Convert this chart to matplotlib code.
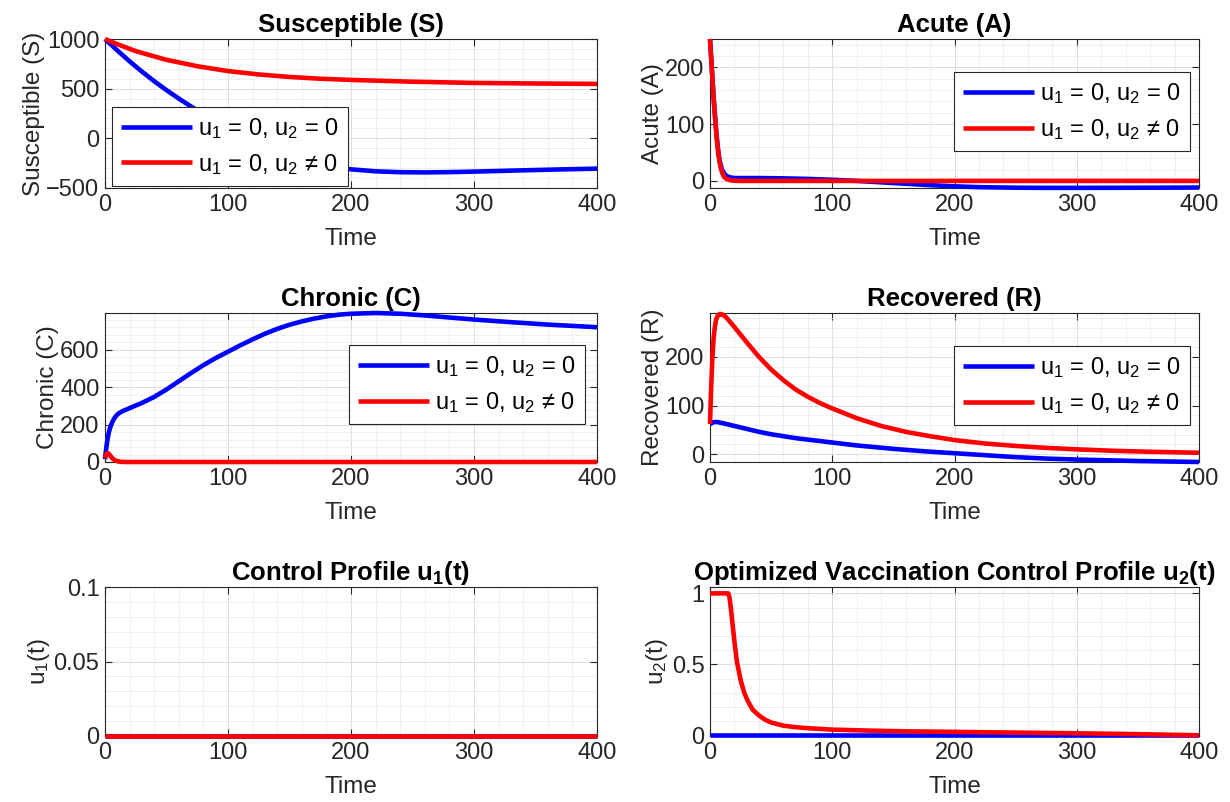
import numpy as np
import matplotlib
matplotlib.use('Agg')
import matplotlib.pyplot as plt
from matplotlib.ticker import AutoMinorLocator

plt.rcParams['font.family'] = ['Liberation Sans', 'DejaVu Sans']
plt.rcParams['mathtext.fontset'] = 'custom'
plt.rcParams['mathtext.rm'] = 'Liberation Sans'
plt.rcParams['mathtext.it'] = 'Liberation Sans'
plt.rcParams['mathtext.bf'] = 'Liberation Sans:bold'
plt.rcParams['mathtext.default'] = 'regular'

# ---- data ----
# Susceptible
s_t_blue = [0, 10, 20, 30, 40, 50, 60, 70, 80, 90, 100, 110, 120, 130, 140, 150, 160, 170,
            180, 190, 200, 220, 240, 260, 280, 300, 340, 370, 400]
s_blue = [1000, 885, 775, 672, 575, 485, 400, 320, 240, 165, 95, 30, -30, -85, -135, -178,
          -215, -248, -275, -296, -312, -332, -341, -343, -340, -335, -322, -313, -305]
s_t_red = [0, 10, 25, 50, 75, 100, 125, 150, 175, 200, 250, 300, 350, 400]
s_red = [1000, 948, 878, 790, 726, 677, 643, 618, 600, 588, 570, 558, 552, 548]

# Acute
a_t_blue = [0, 1, 2, 3, 4, 5, 6, 7, 8, 9, 10, 12, 14, 17, 20, 40, 60, 80, 100, 120, 140,
            160, 180, 200, 220, 250, 280, 320, 360, 400]
a_blue = [250, 215, 180, 146, 117, 90, 67, 48, 35, 26, 19, 12, 8, 6, 5, 5, 4.5, 3.5, 2, 0,
          -2.5, -5, -7.5, -9.5, -11, -12, -12.3, -12.2, -12, -11.7]
a_t_red = [0, 1, 2, 3, 4, 5, 6, 7, 8, 9, 10, 11, 12, 14, 17, 20, 25, 400]
a_red = [250, 215, 180, 145, 115, 88, 64, 45, 31, 21, 14, 9, 6, 3, 1, 0.3, 0, 0]

# Chronic
c_t_blue = [0, 1, 2, 3, 4, 6, 8, 10, 12, 15, 20, 25, 30, 40, 50, 60, 70, 80, 90, 100, 110,
            120, 130, 140, 150, 160, 170, 180, 190, 200, 220, 240, 260, 280, 300, 330, 360, 400]
c_blue = [15, 75, 120, 155, 180, 215, 238, 254, 264, 274, 288, 302, 316, 348, 388, 432, 476,
          518, 556, 590, 624, 656, 686, 712, 734, 752, 767, 779, 788, 793, 797, 793, 784, 773,
          762, 748, 735, 721]
c_t_red = [0, 1, 2, 3, 4, 6, 8, 10, 13, 16, 400]
c_red = [20, 42, 48, 45, 36, 20, 9, 4, 1, 0, 0]

# Recovered
r_t_blue = [0, 3, 6, 10, 20, 30, 40, 50, 60, 70, 80, 100, 120, 150, 175, 200, 225, 250,
            275, 300, 350, 400]
r_blue = [62, 66, 66, 64, 58, 52, 46, 41, 37, 33, 30, 24, 18, 11, 6, 2, -2, -6, -9, -11,
          -14, -16]
r_t_red = [0, 1, 2, 3, 4, 5, 6, 8, 10, 12, 15, 20, 30, 40, 50, 60, 70, 80, 90, 100, 120,
           140, 160, 180, 200, 225, 250, 275, 300, 330, 360, 400]
r_red = [62, 140, 200, 240, 262, 276, 283, 288, 287, 284, 276, 261, 230, 200, 174, 152, 133,
         118, 105, 94, 74, 58, 46, 37, 29, 22, 17, 13, 10, 7, 5, 3]

# Controls
u_t_zero = [0, 400]
u_zero = [0, 0]
u2_t_red = [0, 15, 16, 17, 18, 19, 20, 22, 25, 28, 31, 35, 40, 45, 50, 60, 70, 80, 100, 130,
            160, 200, 250, 300, 350, 400]
u2_red = [1, 1, 0.97, 0.9, 0.82, 0.74, 0.66, 0.52, 0.39, 0.3, 0.24, 0.18, 0.14, 0.11, 0.09,
          0.068, 0.057, 0.05, 0.04, 0.033, 0.028, 0.024, 0.019, 0.014, 0.008, 0]

legend_labels = [r'u$_1$ = 0, u$_2$ = 0', r'u$_1$ = 0, u$_2$ ≠ 0']

BLUE = '#0000ff'
RED = '#ff0000'
TXT = '#262626'
LW = 3.3
TICK_FS = 17
LABEL_FS = 17.5
TITLE_FS = 18.5
LEG_FS = 17

fig = plt.figure(figsize=(12.3, 8.02), dpi=100)

# axes boxes in figure fractions (left, bottom, width, height)
W = 1230.0
H = 802.0
col_x = [105 / W, 710 / W]
col_w = [492 / W, 489 / W]
row_y = [(H - 188) / H, (H - 462) / H, (H - 736) / H]
row_h = 149 / H


def make_ax(r, c):
    ax = fig.add_axes([col_x[c], row_y[r], col_w[c], row_h])
    ax.set_xlim(0, 400)
    ax.set_xticks([0, 100, 200, 300, 400])
    ax.xaxis.set_minor_locator(AutoMinorLocator(5))
    ax.yaxis.set_minor_locator(AutoMinorLocator(5))
    ax.grid(True, which='major', color='#dcdcdc', lw=0.7)
    ax.grid(True, which='minor', color='#ececec', lw=0.6)
    ax.set_axisbelow(True)
    ax.tick_params(which='major', direction='in', length=5, width=0.8, top=True, right=True,
                   labelsize=TICK_FS, colors=TXT, pad=4)
    ax.tick_params(which='minor', length=0)
    for sp in ax.spines.values():
        sp.set_color('#262626')
        sp.set_linewidth(0.8)
    ax.set_xlabel('Time', fontsize=LABEL_FS, color=TXT, labelpad=9)
    return ax


def draw_pair(ax, tb, yb, tr, yr):
    # MATLAB style: thick strokes are not cut at the box edge
    ax.plot(tb, yb, color=BLUE, lw=LW, clip_on=False, solid_capstyle='butt', zorder=3)
    ax.plot(tr, yr, color=RED, lw=LW, clip_on=False, solid_capstyle='butt', zorder=3)


def add_legend(ax, loc, anchor):
    leg = ax.legend(legend_labels, loc=loc, bbox_to_anchor=anchor, borderaxespad=0,
                    fontsize=LEG_FS, fancybox=False, framealpha=1, edgecolor='#262626',
                    handlelength=3.0, handletextpad=0.25, borderpad=0.4, labelspacing=0.45)
    leg.get_frame().set_linewidth(0.8)
    leg.set_zorder(5)
    for t in leg.get_texts():
        t.set_color('black')


# Susceptible
ax = make_ax(0, 0)
draw_pair(ax, s_t_blue, s_blue, s_t_red, s_red)
ax.set_ylim(-500, 1000)
ax.set_yticks([-500, 0, 500, 1000])
ax.set_ylabel('Susceptible (S)', fontsize=LABEL_FS, color=TXT, labelpad=1)
ax.set_title('Susceptible (S)', fontsize=TITLE_FS, fontweight='bold', pad=5)
add_legend(ax, 'lower left', (0.014, 0.013))

# Acute
ax = make_ax(0, 1)
draw_pair(ax, a_t_blue, a_blue, a_t_red, a_red)
ax.set_ylim(-12.5, 250)
ax.set_yticks([0, 100, 200])
ax.set_ylabel('Acute (A)', fontsize=LABEL_FS, color=TXT, labelpad=1)
ax.set_title('Acute (A)', fontsize=TITLE_FS, fontweight='bold', pad=5)
add_legend(ax, 'upper right', (0.982, 0.779))

# Chronic
ax = make_ax(1, 0)
draw_pair(ax, c_t_blue, c_blue, c_t_red, c_red)
ax.set_ylim(0, 797)
ax.set_yticks([0, 200, 400, 600])
ax.set_ylabel('Chronic (C)', fontsize=LABEL_FS, color=TXT, labelpad=1)
ax.set_title('Chronic (C)', fontsize=TITLE_FS, fontweight='bold', pad=5)
add_legend(ax, 'upper right', (0.976, 0.785))

# Recovered
ax = make_ax(1, 1)
draw_pair(ax, r_t_blue, r_blue, r_t_red, r_red)
ax.set_ylim(-16, 290)
ax.set_yticks([0, 100, 200])
ax.set_ylabel('Recovered (R)', fontsize=LABEL_FS, color=TXT, labelpad=1)
ax.set_title('Recovered (R)', fontsize=TITLE_FS, fontweight='bold', pad=5)
add_legend(ax, 'upper right', (0.982, 0.779))

# u1
ax = make_ax(2, 0)
draw_pair(ax, u_t_zero, u_zero, u_t_zero, u_zero)
ax.set_ylim(0, 0.1)
ax.set_yticks([0, 0.05, 0.1])
ax.set_yticklabels(['0', '0.05', '0.1'])
ax.set_ylabel(r'u$_1$(t)', fontsize=LABEL_FS, color=TXT, labelpad=1)
ax.set_title(r'Control Profile u$_\mathbf{1}$(t)', fontsize=TITLE_FS, fontweight='bold', pad=5)

# u2
ax = make_ax(2, 1)
draw_pair(ax, u_t_zero, u_zero, u2_t_red, u2_red)
ax.set_ylim(-0.005, 1.045)
ax.set_yticks([0, 0.5, 1])
ax.set_yticklabels(['0', '0.5', '1'])
ax.set_ylabel(r'u$_2$(t)', fontsize=LABEL_FS, color=TXT, labelpad=1)
ax.set_title(r'Optimized Vaccination Control Profile u$_\mathbf{2}$(t)', fontsize=TITLE_FS,
             fontweight='bold', pad=5)

fig.savefig('out.png', dpi=100)
